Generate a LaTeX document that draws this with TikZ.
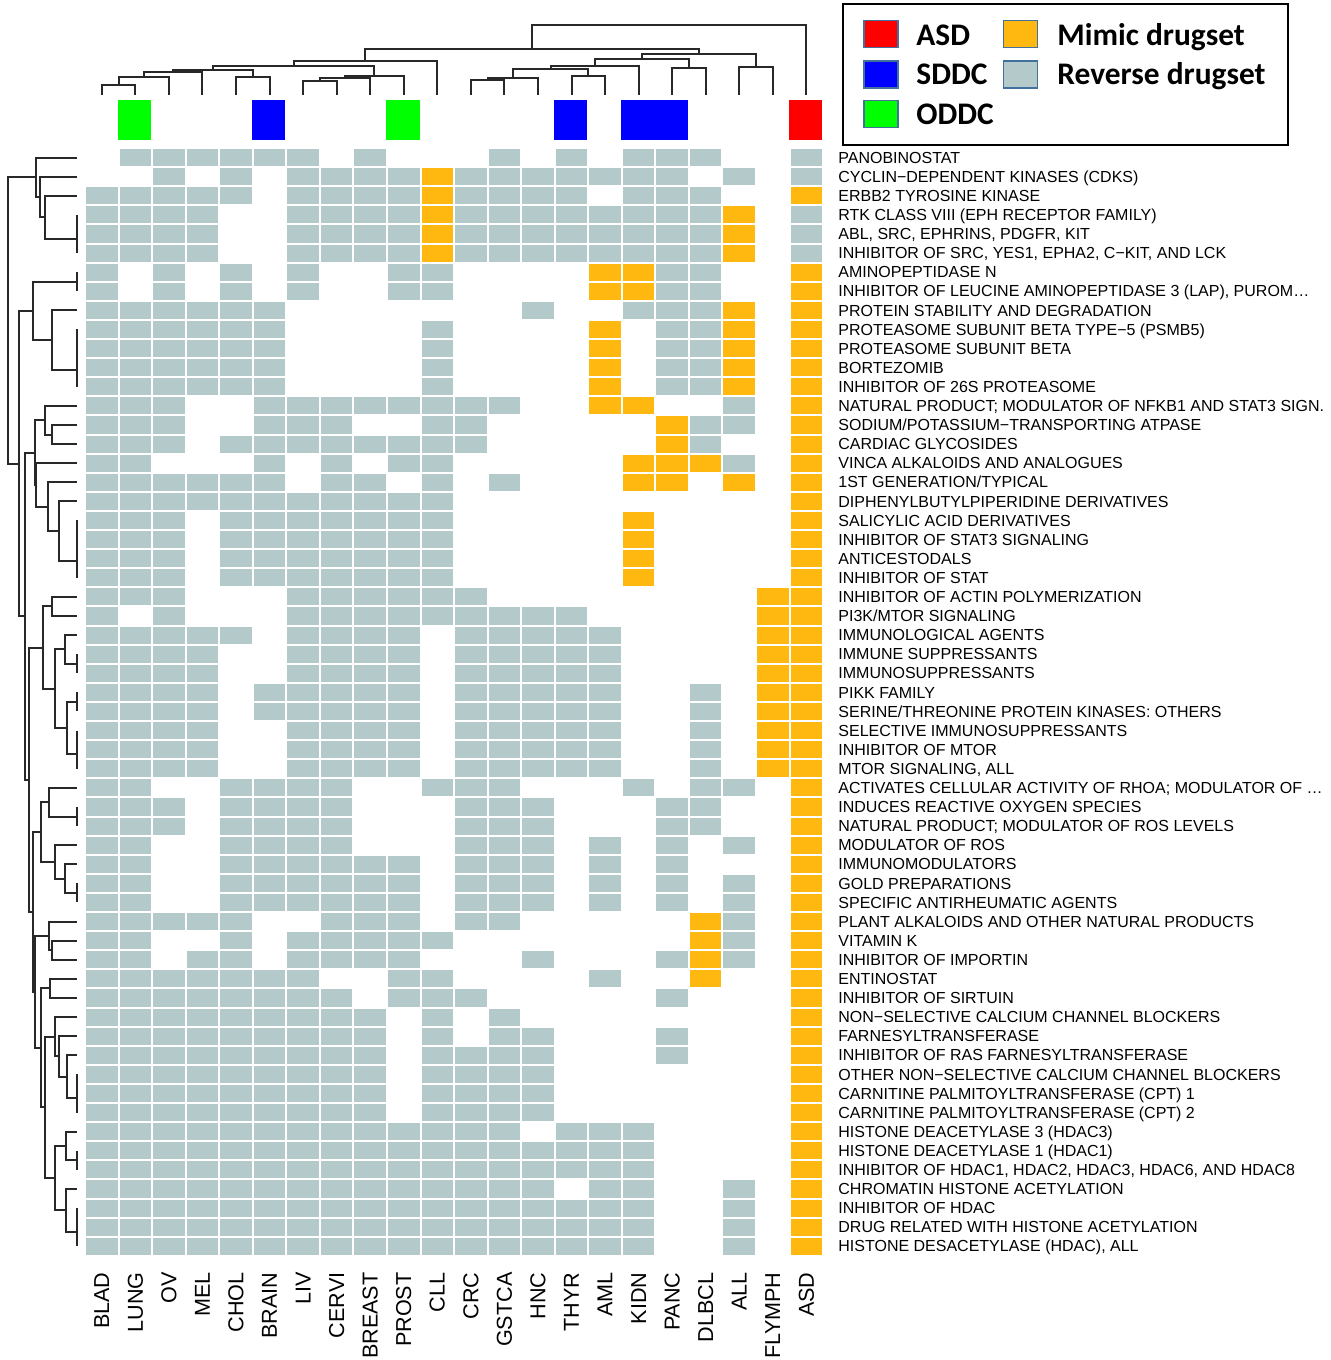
\documentclass[tikz,border=0pt]{standalone}
\usepackage{fontspec}
\setmainfont{Liberation Sans}
\newfontfamily\legendfont{Carlito}
\usetikzlibrary{calc}
\definecolor{revgray}{RGB}{180,202,202}
\definecolor{mimorange}{RGB}{255,184,16}
\definecolor{asdred}{RGB}{255,0,0}
\definecolor{sddcblue}{RGB}{0,0,255}
\definecolor{oddcgreen}{RGB}{0,255,0}
\definecolor{keyframe}{RGB}{65,113,156}
\definecolor{treeline}{RGB}{40,40,40}
\newcommand\heatrow[2]{%
  \foreach \v [count=\c] in {#2} {%
    \ifcase\v\relax
    \or \fill[revcell] ({86+33.55*(\c-1)},{149+19.1*(#1-1)}) rectangle ({84+33.55*\c},{147+19.1*#1});
    \or \fill[mimcell] ({86+33.55*(\c-1)},{149+19.1*(#1-1)}) rectangle ({84+33.55*\c},{147+19.1*#1});
    \fi
  }}

\begin{document}
\begin{tikzpicture}[
  x=0.5pt, y=-0.5pt,
  revcell/.style={fill=revgray},
  mimcell/.style={fill=mimorange},
  treeedge/.style={draw=treeline, line width=1pt},
  rowlabel/.style={anchor=base west, inner sep=0pt, font=\fontsize{8}{9}\selectfont},
  collabel/.style={anchor=east, rotate=90, inner sep=0pt, font=\fontsize{10.8}{12}\selectfont},
  keybox/.style={draw=keyframe, line width=0.8pt, minimum width=17pt,
                 minimum height=13.5pt, inner sep=0pt},
  keytext/.style={anchor=base west, inner sep=0pt,
                  font=\legendfont\bfseries\fontsize{15.7}{18}\selectfont}
]
  \useasboundingbox (0,0) rectangle (1330,1360);

  \heatrow{1}{0,1,1,1,1,1,1,0,1,0,0,0,1,0,1,0,1,1,1,0,0,1}
  \heatrow{2}{0,0,1,0,1,0,1,1,1,1,2,1,1,1,1,1,1,1,0,1,0,1}
  \heatrow{3}{1,1,1,1,1,0,1,1,1,1,2,1,1,1,1,0,1,1,1,0,0,2}
  \heatrow{4}{1,1,1,1,0,0,1,1,1,1,2,1,1,1,1,1,1,1,1,2,0,1}
  \heatrow{5}{1,1,1,1,0,0,1,1,1,1,2,1,1,1,1,1,1,1,1,2,0,1}
  \heatrow{6}{1,1,1,1,0,0,1,1,1,1,2,1,1,1,1,1,1,1,1,2,0,1}
  \heatrow{7}{1,0,1,0,1,0,1,0,0,1,1,0,0,0,0,2,2,1,1,0,0,2}
  \heatrow{8}{1,0,1,0,1,0,1,0,0,1,1,0,0,0,0,2,2,1,1,0,0,2}
  \heatrow{9}{1,1,1,1,1,1,0,0,0,0,0,0,0,1,0,0,1,1,1,2,0,2}
  \heatrow{10}{1,1,1,1,1,1,0,0,0,0,1,0,0,0,0,2,0,1,1,2,0,2}
  \heatrow{11}{1,1,1,1,1,1,0,0,0,0,1,0,0,0,0,2,0,1,1,2,0,2}
  \heatrow{12}{1,1,1,1,1,1,0,0,0,0,1,0,0,0,0,2,0,1,1,2,0,2}
  \heatrow{13}{1,1,1,1,1,1,0,0,0,0,1,0,0,0,0,2,0,1,1,2,0,2}
  \heatrow{14}{1,1,1,0,0,1,1,1,1,1,1,1,1,0,0,2,2,0,0,1,0,2}
  \heatrow{15}{1,1,1,0,0,1,1,1,0,0,1,1,0,0,0,0,0,2,1,1,0,2}
  \heatrow{16}{1,1,1,0,1,1,1,1,1,1,1,1,0,0,0,0,0,2,1,0,0,2}
  \heatrow{17}{1,1,0,0,0,1,0,1,0,1,1,0,0,0,0,0,2,2,2,1,0,2}
  \heatrow{18}{1,1,1,1,1,1,0,1,1,0,1,0,1,0,0,0,2,2,0,2,0,2}
  \heatrow{19}{1,1,1,1,1,1,1,1,1,1,1,0,0,0,0,0,0,0,0,0,0,2}
  \heatrow{20}{1,1,1,0,1,1,1,1,1,1,1,0,0,0,0,0,2,0,0,0,0,2}
  \heatrow{21}{1,1,1,0,1,1,1,1,1,1,1,0,0,0,0,0,2,0,0,0,0,2}
  \heatrow{22}{1,1,1,0,1,1,1,1,1,1,1,0,0,0,0,0,2,0,0,0,0,2}
  \heatrow{23}{1,1,1,0,1,1,1,1,1,1,1,0,0,0,0,0,2,0,0,0,0,2}
  \heatrow{24}{1,1,1,0,0,0,1,1,1,1,1,1,0,0,0,0,0,0,0,0,2,2}
  \heatrow{25}{1,0,1,0,0,0,1,1,1,1,1,1,1,1,1,0,0,0,0,0,2,2}
  \heatrow{26}{1,1,1,1,1,0,1,1,1,1,0,1,1,1,1,1,0,0,0,0,2,2}
  \heatrow{27}{1,1,1,1,0,0,1,1,1,1,0,1,1,1,1,1,0,0,0,0,2,2}
  \heatrow{28}{1,1,1,1,0,0,1,1,1,1,0,1,1,1,1,1,0,0,0,0,2,2}
  \heatrow{29}{1,1,1,1,0,1,1,1,1,1,0,1,1,1,1,1,0,0,1,0,2,2}
  \heatrow{30}{1,1,1,1,0,1,1,1,1,1,0,1,1,1,1,1,0,0,1,0,2,2}
  \heatrow{31}{1,1,1,1,0,0,1,1,1,1,0,1,1,1,1,1,0,0,1,0,2,2}
  \heatrow{32}{1,1,1,1,0,0,1,1,1,1,0,1,1,1,1,1,0,0,1,0,2,2}
  \heatrow{33}{1,1,1,1,0,0,1,1,1,1,0,1,1,1,1,1,0,0,1,0,2,2}
  \heatrow{34}{1,1,0,0,1,1,1,1,0,0,1,1,1,0,0,0,1,0,1,1,0,2}
  \heatrow{35}{1,1,1,0,1,1,1,1,0,0,0,1,1,1,0,0,0,1,1,0,0,2}
  \heatrow{36}{1,1,1,0,1,1,1,1,0,0,0,1,1,1,0,0,0,1,1,0,0,2}
  \heatrow{37}{1,1,0,0,1,1,1,1,0,0,0,1,1,1,0,1,0,1,0,1,0,2}
  \heatrow{38}{1,1,0,0,1,1,1,1,1,1,0,1,1,1,0,1,0,1,0,0,0,2}
  \heatrow{39}{1,1,0,0,1,1,1,1,1,1,0,1,1,1,0,1,0,1,0,1,0,2}
  \heatrow{40}{1,1,0,0,1,1,1,1,1,1,0,1,1,1,0,1,0,1,0,1,0,2}
  \heatrow{41}{1,1,1,1,1,0,0,1,1,1,0,1,1,0,0,0,0,0,2,1,0,2}
  \heatrow{42}{1,1,0,0,1,0,1,1,1,1,1,0,0,0,0,0,0,0,2,1,0,2}
  \heatrow{43}{1,1,0,1,1,0,1,1,1,1,0,0,0,1,0,0,0,1,2,1,0,2}
  \heatrow{44}{1,1,1,1,1,1,1,0,0,1,1,0,0,0,0,1,0,0,2,0,0,2}
  \heatrow{45}{1,1,1,1,1,1,1,1,0,1,1,1,0,0,0,0,0,1,0,0,0,2}
  \heatrow{46}{1,1,1,1,1,1,1,1,1,0,1,0,1,0,0,0,0,0,0,0,0,2}
  \heatrow{47}{1,1,1,1,1,1,1,1,1,0,1,0,1,1,0,0,0,1,0,0,0,2}
  \heatrow{48}{1,1,1,1,1,1,1,1,1,0,1,1,1,1,0,0,0,1,0,0,0,2}
  \heatrow{49}{1,1,1,1,1,1,1,1,1,0,1,1,1,1,0,0,0,0,0,0,0,2}
  \heatrow{50}{1,1,1,1,1,1,1,1,1,0,1,1,1,1,0,0,0,0,0,0,0,2}
  \heatrow{51}{1,1,1,1,1,1,1,1,1,0,1,1,1,1,0,0,0,0,0,0,0,2}
  \heatrow{52}{1,1,1,1,1,1,1,1,1,1,1,1,1,0,1,1,1,0,0,0,0,2}
  \heatrow{53}{1,1,1,1,1,1,1,1,1,1,1,1,1,1,1,1,1,0,0,0,0,2}
  \heatrow{54}{1,1,1,1,1,1,1,1,1,1,1,1,1,1,1,1,1,0,0,0,0,2}
  \heatrow{55}{1,1,1,1,1,1,1,1,1,1,1,1,1,1,0,1,1,0,0,1,0,2}
  \heatrow{56}{1,1,1,1,1,1,1,1,1,1,1,1,1,1,1,1,1,0,0,1,0,2}
  \heatrow{57}{1,1,1,1,1,1,1,1,1,1,1,1,1,1,1,1,1,0,0,1,0,2}
  \heatrow{58}{1,1,1,1,1,1,1,1,1,1,1,1,1,1,1,1,1,0,0,1,0,2}

  \foreach \c/\w/\col in {1/1/oddcgreen, 5/1/sddcblue, 9/1/oddcgreen,
                          14/1/sddcblue, 16/2/sddcblue, 21/1/asdred} {
    \fill[\col] ({84+33.55*\c},100) rectangle ({84+33.55*(\c+\w)},140);
  }

  \foreach \c in {0,...,21}
    \coordinate (tleaf\c) at ({101.8+33.55*\c},95);
  \foreach \r in {1,...,58}
    \coordinate (lleaf\r) at (77,{138.45+19.1*\r});

  \foreach \nm/\ca/\cb/\hh in {tj1/tleaf0/tleaf1/85, tj2/tj1/tleaf2/76.7,
      tj3/tj2/tleaf3/72.3, tj4/tleaf4/tleaf5/76.7, tj5/tj3/tj4/70,
      tj6/tleaf6/tleaf7/81, tj7/tj6/tleaf8/78.3, tj8/tj7/tleaf9/75.7,
      tj9/tj5/tj8/65.7, tj10/tj9/tleaf10/61, tj11/tleaf11/tleaf12/80,
      tj12/tj11/tleaf13/78.3, tj13/tleaf14/tleaf15/75.7, tj14/tj12/tj13/69.3,
      tj15/tj14/tleaf16/65.7, tj16/tleaf17/tleaf18/68.3, tj17/tj15/tj16/59,
      tj18/tleaf19/tleaf20/66.7, tj19/tj17/tj18/54, tj20/tj10/tj19/49.3,
      tj21/tj20/tleaf21/25} {
    \path ($(\ca)!0.5!(\cb)$) coordinate (mid);
    \coordinate (\nm) at (mid |- 0,\hh);
    \draw[treeedge] (\ca) -- (\ca |- \nm) -- (\cb |- \nm) -- (\cb);
  }

  \foreach \nm/\ca/\cb/\hh in {la1/lleaf4/lleaf5/77, la2/la1/lleaf6/77,
      la3/lleaf3/la2/45, la4/lleaf2/la3/40, la5/lleaf1/la4/36,
      lc1/lleaf7/lleaf8/77, lc2/lleaf10/lleaf11/77, lc3/lc2/lleaf12/77,
      lc4/lc3/lleaf13/77, lc5/lleaf9/lc4/52, lc6/lc1/lc5/33,
      le1/lleaf15/lleaf16/52, le2/lleaf14/le1/45, le3/lleaf20/lleaf21/77,
      le4/le3/lleaf22/77, le5/le4/lleaf23/77, le6/lleaf19/le5/59,
      le7/lleaf18/le6/48, le8/lleaf17/le7/36, le9/le2/le8/35,
      lf1/lleaf24/lleaf25/52, lf2/lleaf27/lleaf28/77, lf3/lleaf26/lf2/65,
      lf4/lleaf29/lleaf30/77, lf5/lleaf31/lleaf32/77, lf6/lf5/lleaf33/77,
      lf7/lf4/lf6/67, lf8/lf3/lf7/55, lf9/lf1/lf8/43,
      lg1/lleaf35/lleaf36/77, lg2/lleaf34/lg1/49, lg3/lleaf39/lleaf40/77,
      lg4/lleaf38/lg3/65, lg5/lleaf37/lg4/55, lg6/lg2/lg5/41,
      lh1/lleaf42/lleaf43/52, lh2/lleaf41/lh1/49, lh3/lleaf44/lleaf45/50,
      lh4/lleaf49/lleaf50/77, lh5/lh4/lleaf51/77, lh6/lleaf48/lh5/67,
      lh7/lleaf47/lh6/59, lh8/lleaf46/lh7/55, lh9/lleaf53/lleaf54/77,
      lh10/lleaf52/lh9/66, lh11/lleaf56/lleaf57/77, lh12/lh11/lleaf58/77,
      lh13/lleaf55/lh12/66, lh14/lh10/lh13/55, lh15/lh8/lh14/45,
      lh16/lh3/lh15/41, lh17/lh2/lh16/35,
      lk1/lg6/lh17/33, lk2/lf9/lk1/29, lk3/le9/lk2/25, lk4/lc6/lk3/19,
      lk5/la5/lk4/8} {
    \path ($(\ca)!0.5!(\cb)$) coordinate (mid);
    \coordinate (\nm) at (mid -| \hh,0);
    \draw[treeedge] (\ca) -- (\ca -| \nm) -- (\cb -| \nm) -- (\cb);
  }

  \foreach \lab [count=\r] in {{PANOBINOSTAT}, {CYCLIN−DEPENDENT KINASES (CDKS)},
      {ERBB2 TYROSINE KINASE}, {RTK CLASS VIII (EPH RECEPTOR FAMILY)},
      {ABL, SRC, EPHRINS, PDGFR, KIT}, {INHIBITOR OF SRC, YES1, EPHA2, C−KIT, AND LCK},
      {AMINOPEPTIDASE N}, {INHIBITOR OF LEUCINE AMINOPEPTIDASE 3 (LAP), PUROM\ldots},
      {PROTEIN STABILITY AND DEGRADATION}, {PROTEASOME SUBUNIT BETA TYPE−5 (PSMB5)},
      {PROTEASOME SUBUNIT BETA}, {BORTEZOMIB}, {INHIBITOR OF 26S PROTEASOME},
      {NATURAL PRODUCT; MODULATOR OF NFKB1 AND STAT3 SIGN.},
      {SODIUM/POTASSIUM−TRANSPORTING ATPASE}, {CARDIAC GLYCOSIDES},
      {VINCA ALKALOIDS AND ANALOGUES}, {1ST GENERATION/TYPICAL},
      {DIPHENYLBUTYLPIPERIDINE DERIVATIVES}, {SALICYLIC ACID DERIVATIVES},
      {INHIBITOR OF STAT3 SIGNALING}, {ANTICESTODALS}, {INHIBITOR OF STAT},
      {INHIBITOR OF ACTIN POLYMERIZATION}, {PI3K/MTOR SIGNALING},
      {IMMUNOLOGICAL AGENTS}, {IMMUNE SUPPRESSANTS}, {IMMUNOSUPPRESSANTS},
      {PIKK FAMILY}, {SERINE/THREONINE PROTEIN KINASES: OTHERS},
      {SELECTIVE IMMUNOSUPPRESSANTS}, {INHIBITOR OF MTOR}, {MTOR SIGNALING, ALL},
      {ACTIVATES CELLULAR ACTIVITY OF RHOA; MODULATOR OF \ldots},
      {INDUCES REACTIVE OXYGEN SPECIES}, {NATURAL PRODUCT; MODULATOR OF ROS LEVELS},
      {MODULATOR OF ROS}, {IMMUNOMODULATORS}, {GOLD PREPARATIONS},
      {SPECIFIC ANTIRHEUMATIC AGENTS}, {PLANT ALKALOIDS AND OTHER NATURAL PRODUCTS},
      {VITAMIN K}, {INHIBITOR OF IMPORTIN}, {ENTINOSTAT}, {INHIBITOR OF SIRTUIN},
      {NON−SELECTIVE CALCIUM CHANNEL BLOCKERS}, {FARNESYLTRANSFERASE},
      {INHIBITOR OF RAS FARNESYLTRANSFERASE},
      {OTHER NON−SELECTIVE CALCIUM CHANNEL BLOCKERS},
      {CARNITINE PALMITOYLTRANSFERASE (CPT) 1}, {CARNITINE PALMITOYLTRANSFERASE (CPT) 2},
      {HISTONE DEACETYLASE 3 (HDAC3)}, {HISTONE DEACETYLASE 1 (HDAC1)},
      {INHIBITOR OF HDAC1, HDAC2, HDAC3, HDAC6, AND HDAC8},
      {CHROMATIN HISTONE ACETYLATION}, {INHIBITOR OF HDAC},
      {DRUG RELATED WITH HISTONE ACETYLATION}, {HISTONE DESACETYLASE (HDAC), ALL}} {
    \node[rowlabel] (rlab\r) at (838,{144.15+19.1*\r}) {\lab};
  }

  \foreach \lab [count=\c] in {BLAD, LUNG, OV, MEL, CHOL, BRAIN, LIV, CERVI, BREAST,
      PROST, CLL, CRC, GSTCA, HNC, THYR, AML, KIDN, PANC, DLBCL, ALL, FLYMPH, ASD} {
    \node[collabel] (clab\c) at ({101.8+33.55*(\c-1)},1272) {\lab};
  }

  \draw[line width=1pt] (843,4) rectangle (1288,145);
  \node[keybox, fill=asdred]    (kasd)  at (881,34)    {};
  \node[keybox, fill=sddcblue]  (ksddc) at (881,74.5)  {};
  \node[keybox, fill=oddcgreen] (koddc) at (881,114)   {};
  \node[keybox, fill=mimorange] (kmim)  at (1020.5,34) {};
  \node[keybox, fill=revgray]   (krev)  at (1020.5,74.5) {};
  \node[keytext] (tasd)  at (916,45)  {ASD};
  \node[keytext] (tsddc) at (916,84)  {SDDC};
  \node[keytext] (toddc) at (916,124) {ODDC};
  \node[keytext] (tmim)  at (1057,45) {Mimic drugset};
  \node[keytext] (trev)  at (1057,84) {Reverse drugset};
\end{tikzpicture}
\end{document}
